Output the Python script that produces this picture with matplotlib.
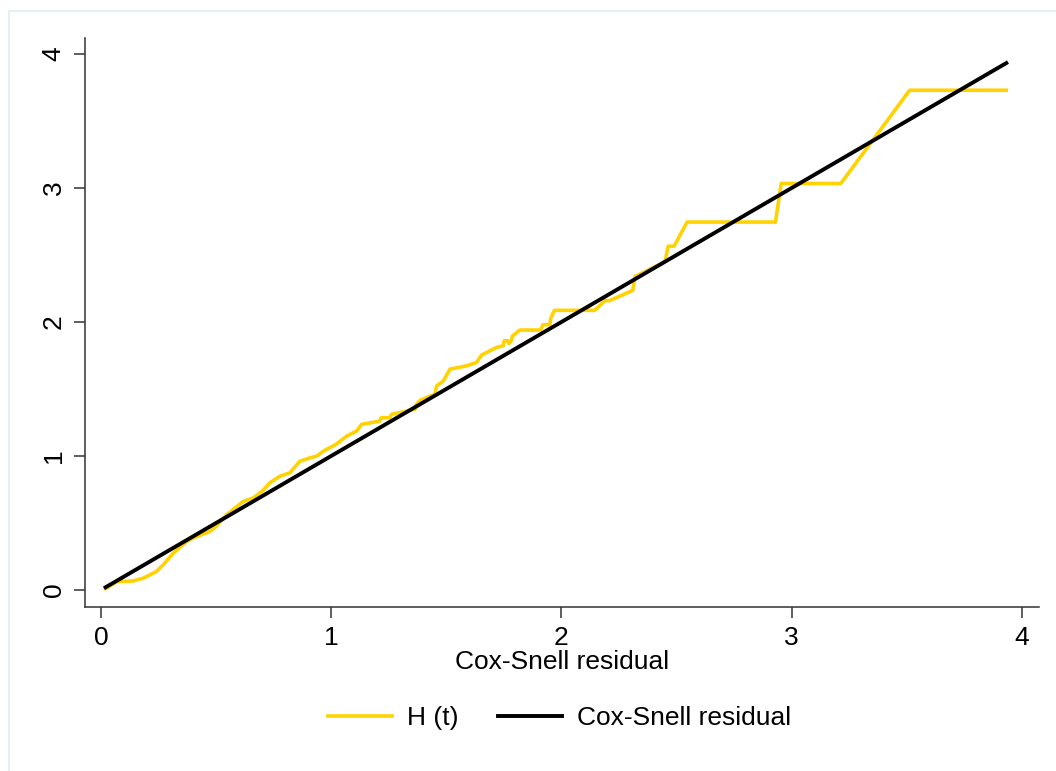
import numpy as np
import matplotlib
matplotlib.use('Agg')
import matplotlib.pyplot as plt
from matplotlib.patches import Rectangle

plt.rcParams['font.family'] = ['Liberation Sans', 'DejaVu Sans']

# Cox-Snell residuals (sorted) and Nelson-Aalen cumulative hazard H(t)
cs = [0.02, 0.068, 0.14, 0.184, 0.24, 0.27, 0.314, 0.372, 0.40, 0.473,
      0.50, 0.546, 0.618, 0.66, 0.70, 0.734, 0.777, 0.82, 0.864, 0.908,
      0.937, 0.966, 1.02, 1.067, 1.11, 1.132, 1.21, 1.218, 1.255, 1.262,
      1.364, 1.37, 1.39, 1.45, 1.458, 1.487, 1.516, 1.588, 1.631, 1.653,
      1.718, 1.747, 1.752, 1.768, 1.772, 1.783, 1.787, 1.82, 1.91, 1.92,
      1.95, 1.954, 1.97, 2.145, 2.19, 2.21, 2.31, 2.32, 2.45, 2.464,
      2.49, 2.546, 2.93, 2.955, 3.214, 3.513, 3.933]
H = [0.01, 0.062, 0.067, 0.088, 0.137, 0.187, 0.275, 0.362, 0.387, 0.437,
     0.474, 0.562, 0.661, 0.686, 0.736, 0.80, 0.849, 0.874, 0.961, 0.986,
     0.999, 1.036, 1.086, 1.148, 1.186, 1.236, 1.26, 1.286, 1.286, 1.311,
     1.348, 1.386, 1.42, 1.46, 1.523, 1.56, 1.648, 1.673, 1.698, 1.753,
     1.81, 1.823, 1.86, 1.86, 1.84, 1.86, 1.895, 1.94, 1.94, 1.98,
     1.98, 2.03, 2.087, 2.087, 2.16, 2.16, 2.236, 2.34, 2.45, 2.566,
     2.566, 2.746, 2.746, 3.034, 3.034, 3.73, 3.73]
ticks = [0, 1, 2, 3, 4]
fs = 19

fig = plt.figure(figsize=(10.56, 7.71), dpi=100)
ax = fig.add_axes([0.0805, 0.2131, 0.9034, 0.7376])

# thin light frame round the graph region
fig.patches.append(Rectangle((9 / 1056, -0.02), 1.05, 1 - 11 / 771 + 0.02,
                             transform=fig.transFigure, fill=False,
                             edgecolor='#e6eff1', linewidth=1.6))

ax.plot(cs, H, color='#ffd200', lw=2.6, label='H (t)')
ax.plot(cs, cs, color='black', lw=2.8, label='Cox-Snell residual')

ax.set_xlim(-0.0695, 4.075)
ax.set_ylim(-0.125, 4.12)
ax.set_xticks(ticks)
ax.set_yticks(ticks)
ax.set_xticklabels([str(t) for t in ticks], fontsize=fs)
ax.set_yticklabels([str(t) for t in ticks], fontsize=fs, rotation=90, va='center')
ax.tick_params(length=8, width=1.1, color='#333333', pad=6)
for s in ['top', 'right']:
    ax.spines[s].set_visible(False)
for s in ['left', 'bottom']:
    ax.spines[s].set_linewidth(1.1)
    ax.spines[s].set_color('#333333')

ax.set_xlabel('Cox-Snell residual', fontsize=fs, labelpad=0)

fig.legend(loc='center', bbox_to_anchor=(560 / 1056, 1 - 718 / 771), ncol=2,
           frameon=False, fontsize=fs, handlelength=2.42, handletextpad=0.57,
           columnspacing=1.5)

fig.savefig('out.png', dpi=100)
